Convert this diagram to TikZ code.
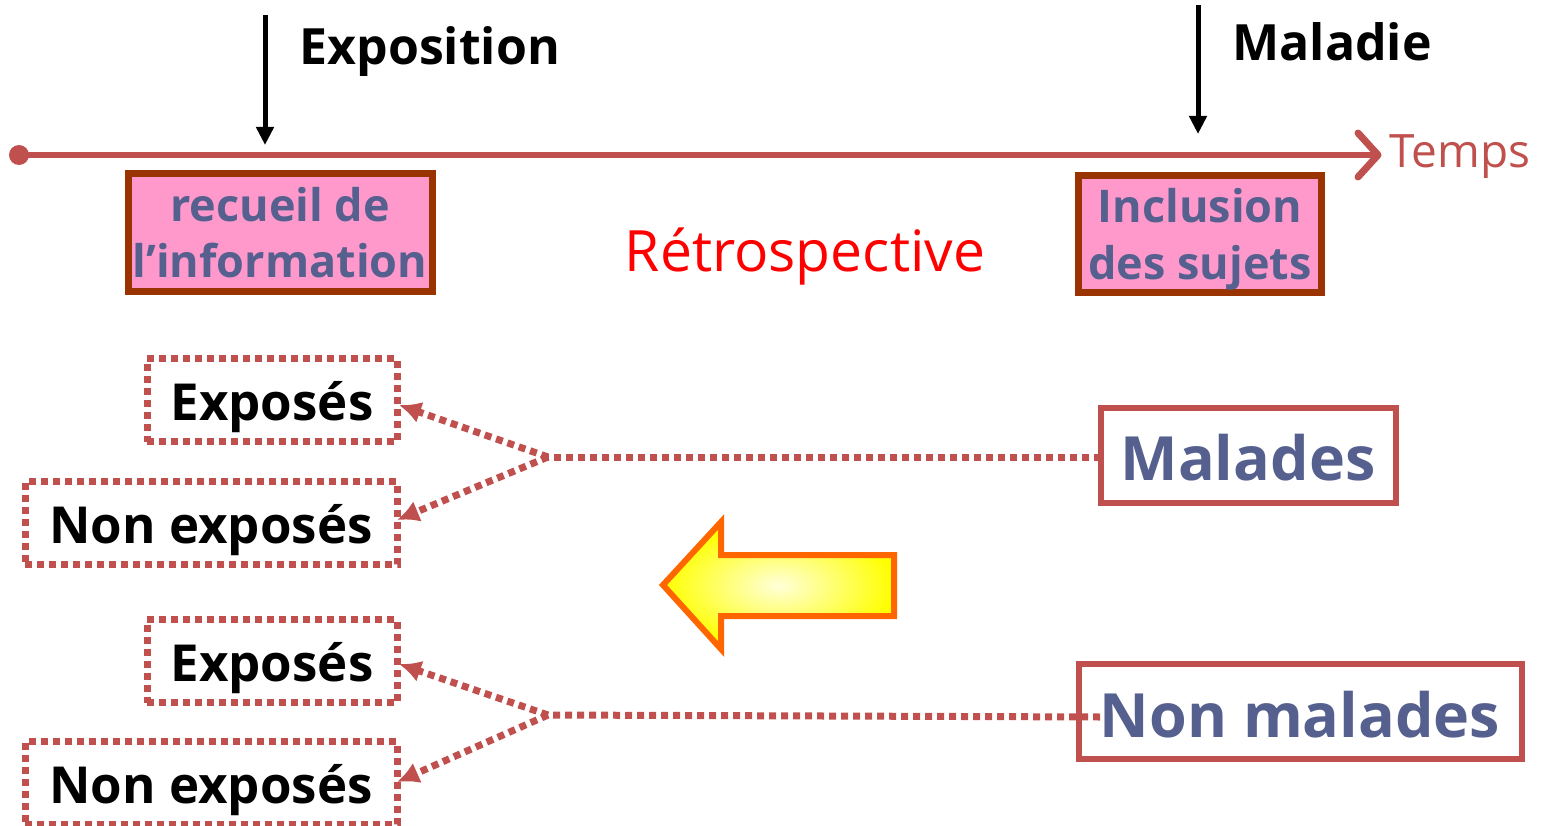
\documentclass[tikz,border=0pt]{standalone}
\usepackage{fontspec}
\setmainfont{Open Sans}
\usetikzlibrary{arrows.meta}
\definecolor{axisred}{RGB}{192,80,77}
\definecolor{boxfill}{RGB}{255,153,204}
\definecolor{boxline}{RGB}{153,51,0}
\definecolor{slate}{RGB}{86,96,143}
\definecolor{arroworange}{RGB}{255,102,0}
% shift text down without changing the box it occupies
\newcommand{\lowered}[2]{\raisebox{-#1pt}[\height][\depth]{#2}}
\tikzset{
  x=1pt, y=-1pt,
  fs/.style={font=\fontsize{#1}{#1}\selectfont},
  phasebox/.style={draw=boxline, fill=boxfill, line width=7pt, inner sep=0pt,
    align=center, text=slate, font=\fontsize{45}{56}\selectfont\bfseries},
  groupbox/.style={draw=axisred, line width=7pt, dash pattern=on 7pt off 5pt,
    inner sep=0pt, text=black, font=\fontsize{51}{55}\selectfont\bfseries},
  casebox/.style={draw=axisred, line width=6pt, inner sep=0pt, text=slate,
    font=\fontsize{61}{66}\selectfont\bfseries},
  dotlink/.style={draw=axisred, line width=7pt, dash pattern=on 7pt off 5pt},
  dottip/.style={-{Latex[length=22pt,width=22pt]}},
  eventarrow/.style={line width=5pt, -{Triangle[length=18pt,width=17pt]}},
  eventlabel/.style={anchor=west, font=\fontsize{50}{55}\selectfont\bfseries},
}
\begin{document}
\begin{tikzpicture}
\useasboundingbox (0,0) rectangle (1547,826);

% time axis
\coordinate (t0) at (19,155);
\coordinate (t1) at (1378,155);
\draw[axisred, line width=6pt] (t0) -- (t1);
\fill[axisred] (t0) circle (10);
\draw[axisred, line width=7pt, line cap=round, line join=round]
  (1358,133) -- (t1) -- (1358,177);
\node[anchor=west, text=axisred, fs=46] (temps) at (1386,157) {Temps};

% events on the axis
\coordinate (expTop) at (265,15);
\coordinate (expBot) at (265,145);
\draw[eventarrow] (expTop) -- (expBot);
\node[eventlabel] (expo) at (296,52) {Exposition};

\coordinate (malTop) at (1198,5);
\coordinate (malBot) at (1198,134);
\draw[eventarrow] (malTop) -- (malBot);
\node[eventlabel] (maladie) at (1229,42) {Maladie};

% phases
\node[phasebox, minimum width=304pt, minimum height=118pt] (recueil) at (280,233)
  {recueil de\\l’information};
\node[phasebox, minimum width=243pt, minimum height=117pt] (inclusion) at (1200,234)
  {\lowered{5}{Inclusion}\\\lowered{6}{des sujets}};
\node[text=red, fs=57] (retro) at (805,257) {Rétrospective};

% exposure groups
\node[groupbox, minimum width=250pt, minimum height=83pt] (e1) at (272,400) {\lowered{7}{Exposés}};
\node[groupbox, minimum width=372pt, minimum height=83pt] (n1) at (211,523) {\lowered{7}{Non exposés}};
\node[groupbox, minimum width=250pt, minimum height=83pt] (e2) at (272,661) {\lowered{7}{Exposés}};
\node[groupbox, minimum width=372pt, minimum height=83pt] (n2) at (211,783) {\lowered{7}{Non exposés}};

% case groups
\node[casebox, minimum width=295pt, minimum height=95pt] (mal) at (1248,455) {\lowered{3}{Malades}};
\node[casebox, minimum width=443pt, minimum height=95pt] (nmal) at (1300,711) {\lowered{4}{Non malades}};

% links from cases back to exposure
\coordinate (j1) at (548,457);
\coordinate (j2) at (548,715);
\coordinate (m1) at (1101,457);
\coordinate (m2) at (1100,717);
\coordinate (e1t) at (399,405);
\coordinate (n1t) at (397,520);
\coordinate (e2t) at (399,664);
\coordinate (n2t) at (397,782);
\draw[dotlink] (m1) -- (j1);
\draw[dotlink, dottip] (j1) -- (e1t);
\draw[dotlink, dottip] (j1) -- (n1t);
\draw[dotlink] (m2) -- (j2);
\draw[dotlink, dottip] (j2) -- (e2t);
\draw[dotlink, dottip] (j2) -- (n2t);

% direction of the study
\shadedraw[draw=arroworange, line width=6pt, line join=miter,
  shading=radial, inner color=yellow!15, outer color=yellow]
  (663,585) -- (721,522) -- (721,555) -- (894,555) -- (894,616)
  -- (721,616) -- (721,649) -- cycle;
\end{tikzpicture}
\end{document}
